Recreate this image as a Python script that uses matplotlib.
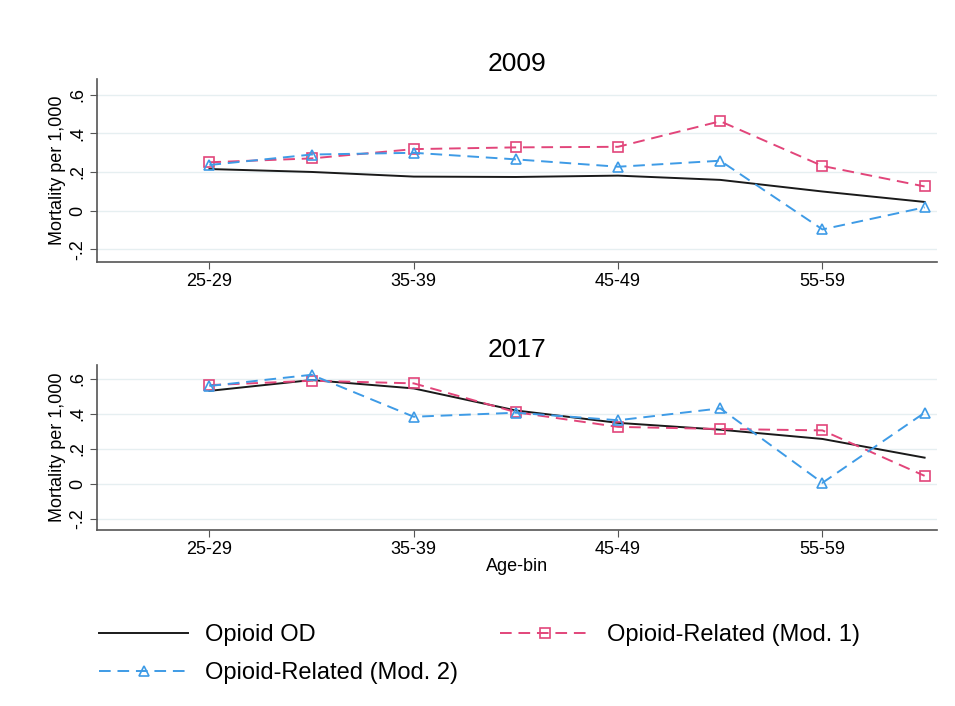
import numpy as np
import matplotlib.pyplot as plt

age_bins = ['25-29', '30-34', '35-39', '40-44', '45-49', '50-54', '55-59', '60-64']
years = ['2009', '2017']

# mortality per 1,000 by age bin
od_2009 = [0.215, 0.200, 0.176, 0.174, 0.181, 0.159, 0.099, 0.045]
mod1_2009 = [0.250, 0.270, 0.318, 0.327, 0.330, 0.462, 0.231, 0.125]
mod2_2009 = [0.236, 0.290, 0.299, 0.265, 0.227, 0.258, -0.097, 0.017]

od_2017 = [0.532, 0.594, 0.546, 0.420, 0.349, 0.310, 0.257, 0.150]
mod1_2017 = [0.565, 0.590, 0.575, 0.410, 0.326, 0.314, 0.306, 0.046]
mod2_2017 = [0.560, 0.624, 0.384, 0.407, 0.364, 0.432, 0.006, 0.407]

series = {
    '2009': (od_2009, mod1_2009, mod2_2009),
    '2017': (od_2017, mod1_2017, mod2_2017),
}

black = '#1a1a1a'
red = '#e2457a'
blue = '#3e9be6'

plt.rcParams['font.family'] = ['Liberation Sans', 'DejaVu Sans']

fig = plt.figure(figsize=(9.55, 7.06), dpi=100)
boxes = [[0.1016, 0.629, 0.8794, 0.259], [0.1016, 0.249, 0.8794, 0.234]]

x = np.arange(len(age_bins))
handles = []
for yr, box in zip(years, boxes):
    ax = fig.add_axes(box)
    od, m1, m2 = series[yr]
    h1, = ax.plot(x, od, color=black, lw=1.4, label='Opioid OD')
    h2, = ax.plot(x, m1, color=red, lw=1.4, ls=(0, (6, 3.5)), marker='s',
                  ms=7, mfc='none', mec=red, mew=1.2, label='Opioid-Related (Mod. 1)')
    h3, = ax.plot(x, m2, color=blue, lw=1.4, ls=(0, (6, 3.5)), marker='^',
                  ms=7, mfc='none', mec=blue, mew=1.2, label='Opioid-Related (Mod. 2)')
    handles = [h1, h2, h3]

    ax.set_xlim(-1.1, 7.12)
    ax.set_ylim(-0.265, 0.68)
    ax.set_yticks([-0.2, 0, 0.2, 0.4, 0.6])
    ax.set_yticklabels(['-.2', '0', '.2', '.4', '.6'], rotation=90, va='center')
    ax.set_xticks(x[::2])
    ax.set_xticklabels(age_bins[::2])
    ax.tick_params(labelsize=13, color='#555555', length=5, pad=3)
    ax.grid(axis='y', color='#e6eff1', lw=1)
    ax.set_axisbelow(True)
    for s in ['top', 'right']:
        ax.spines[s].set_visible(False)
    for s in ['left', 'bottom']:
        ax.spines[s].set_color('#555555')
        ax.spines[s].set_linewidth(1.2)
    ax.set_ylabel('Mortality per 1,000', fontsize=13, labelpad=2)
    ax.set_title(yr, fontsize=19, pad=6)
    if yr == '2017':
        ax.set_xlabel('Age-bin', fontsize=13, labelpad=0)

# Mod. 1 goes in the second column of the first row
order = [handles[0], handles[2], handles[1]]
fig.legend(handles=order, labels=[h.get_label() for h in order],
           loc='upper left', bbox_to_anchor=(0.091, 0.133), ncol=2,
           frameon=False, fontsize=17, handlelength=3.8, handletextpad=0.7,
           columnspacing=1.8, labelspacing=0.7, borderpad=0, markerscale=1.0)

fig.savefig('out.png', dpi=100, facecolor='white')
